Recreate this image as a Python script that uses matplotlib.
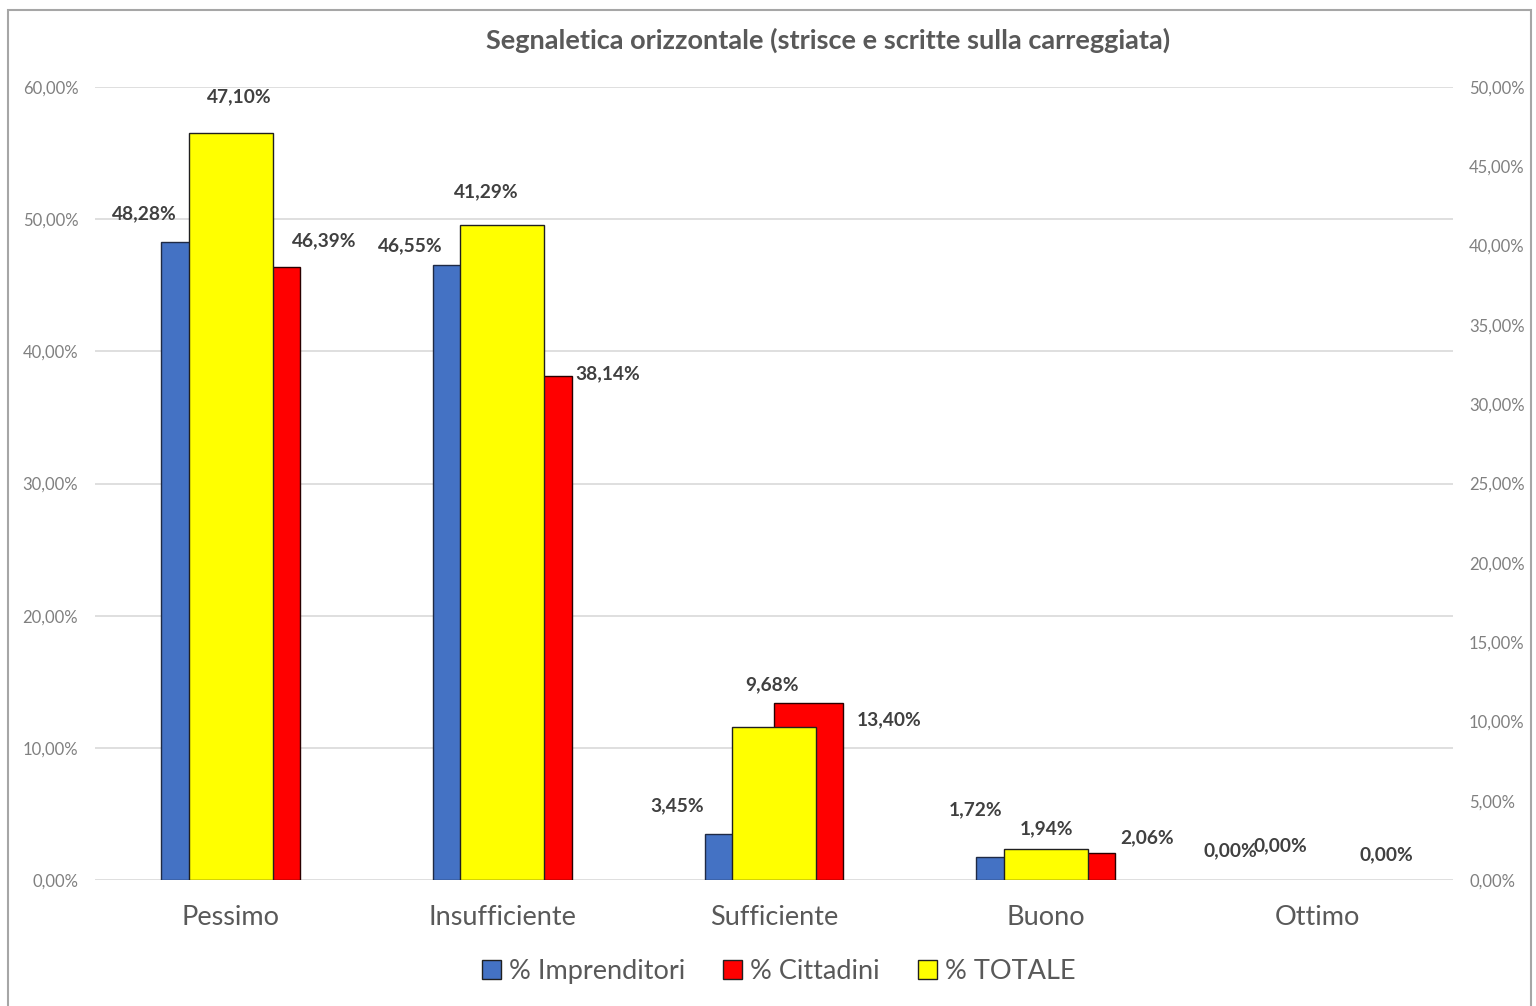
import matplotlib.pyplot as plt
import matplotlib.patches as mpatches
from matplotlib.ticker import MultipleLocator, FuncFormatter
import numpy as np

# 1. Dati
categorie = ['Pessimo', 'Insufficiente', 'Sufficiente', 'Buono', 'Ottimo']
imprenditori = [48.28, 46.55, 3.45, 1.72, 0.00]   # asse principale (0-60%)
cittadini = [46.39, 38.14, 13.40, 2.06, 0.00]      # asse principale (0-60%)
totale = [47.10, 41.29, 9.68, 1.94, 0.00]          # asse secondario (0-50%)

titolo = 'Segnaletica orizzontale (strisce e scritte sulla carreggiata)'
nomi_serie = ['% Imprenditori', '% Cittadini', '% TOTALE']

# spostamenti manuali delle etichette (pixel), come nel file Excel
off_impr = [(-17, 28), (-23, 19), (-28, 29), (-1, 48), (-18, 29)]
off_citt = [(24, 26), (36, 2), (46, -17), (32, 15), (0, 25)]
off_tot = [(9, 36), (-16, 33), (-2, 42), (1, 21), (-37, 34)]

# 2. Stile
plt.rcParams['font.family'] = ['Lato', 'DejaVu Sans']
col_blu, col_rosso, col_giallo = '#4472C4', '#FF0000', '#FFFF00'
grigio_testo = '#595959'


def fmt_pct(v, pos=None):
    return f"{v:.2f}".replace('.', ',') + '%'


fig = plt.figure(figsize=(15.36, 10.06), dpi=100)
ax = fig.add_axes([0.0618, 0.1252, 0.8842, 0.7883])
ax2 = ax.twinx()

x = np.arange(len(categorie))
w = 0.255   # larghezza barre asse principale
w2 = 0.31   # larghezza barre TOTALE

b_impr = ax.bar(x - w / 2, imprenditori, w, color=col_blu, edgecolor='#1f2a44', linewidth=1, zorder=3)
b_citt = ax.bar(x + w / 2, cittadini, w, color=col_rosso, edgecolor='#2a0000', linewidth=1, zorder=3)
b_tot = ax2.bar(x, totale, w2, color=col_giallo, edgecolor='#202020', linewidth=1, zorder=3)

# le barre a zero non devono mostrare il bordo
for bars in (b_impr, b_citt, b_tot):
    for bar in bars:
        if bar.get_height() == 0:
            bar.set_linewidth(0)

# 3. Assi
ax.set_xlim(-0.5, len(categorie) - 0.5)
ax.set_ylim(0, 60)
ax2.set_ylim(0, 50)
ax.yaxis.set_major_locator(MultipleLocator(10))
ax2.yaxis.set_major_locator(MultipleLocator(5))
ax.yaxis.set_major_formatter(FuncFormatter(fmt_pct))
ax2.yaxis.set_major_formatter(FuncFormatter(fmt_pct))

ax.grid(axis='y', color='#d9d9d9', linewidth=1.2, zorder=0)
ax.set_axisbelow(True)
for a in (ax, ax2):
    for s in a.spines.values():
        s.set_visible(False)
ax.tick_params(axis='y', length=0, pad=12, labelsize=12, labelcolor='#808080')
ax2.tick_params(axis='y', length=0, pad=11.5, labelsize=12, labelcolor='#808080')
ax.set_xticks(x)
ax.set_xticklabels(categorie)
ax.tick_params(axis='x', length=0, pad=18, labelsize=19.5, labelcolor=grigio_testo)

# 4. Etichette dei dati
stile_et = dict(ha='center', va='center', fontsize=13.8, fontweight='bold',
                color='#404040', textcoords='offset pixels', annotation_clip=False)
for bar, v, off in zip(b_impr, imprenditori, off_impr):
    ax.annotate(fmt_pct(v), (bar.get_x(), bar.get_height()), xytext=off, **stile_et)
for bar, v, off in zip(b_citt, cittadini, off_citt):
    ax.annotate(fmt_pct(v), (bar.get_x() + bar.get_width(), bar.get_height()), xytext=off, **stile_et)
for bar, v, off in zip(b_tot, totale, off_tot):
    ax2.annotate(fmt_pct(v), (bar.get_x() + bar.get_width() / 2, bar.get_height()), xytext=off,
                 zorder=5, **stile_et)

# 5. Titolo, legenda e cornice
fig.text(0.539, 0.96, titolo, ha='center', va='center', fontsize=19.5, fontweight='bold', color=grigio_testo)

handles = [mpatches.Patch(facecolor=c, edgecolor='#202020', linewidth=1)
           for c in (col_blu, col_rosso, col_giallo)]
fig.legend(handles, nomi_serie, loc='center', bbox_to_anchor=(0.507, 0.034), ncol=3,
           frameon=False, fontsize=19.5, labelcolor=grigio_testo, handlelength=0.7,
           handleheight=0.7, handletextpad=0.3, columnspacing=1.4)

cornice = mpatches.Rectangle((8 / 1536, -0.01), (1531 - 8) / 1536, 1 - 10 / 1006 + 0.01,
                             transform=fig.transFigure, fill=False, edgecolor='#a6a6a6', linewidth=1.5)
fig.patches.append(cornice)

fig.savefig('out.png', dpi=100)
